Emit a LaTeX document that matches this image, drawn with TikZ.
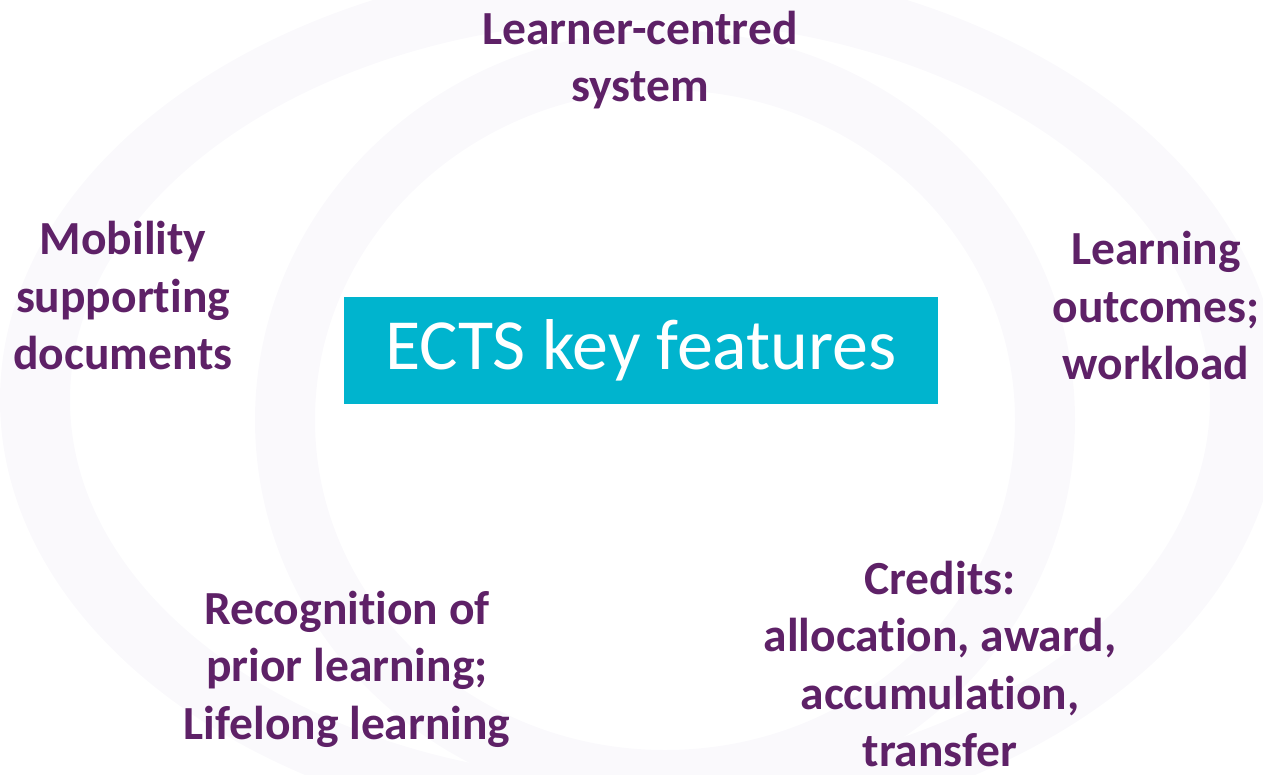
\documentclass[tikz,border=0pt]{standalone}
\usepackage{fontspec}
\setmainfont{Carlito}[Ligatures={NoCommon}]
\definecolor{plum}{HTML}{5E2167}
\definecolor{teal}{HTML}{00B4CE}
\definecolor{haze}{HTML}{FAF9FC}
\begin{document}
\begin{tikzpicture}[x=1pt,y=-1pt,
  feature/.style={text=plum, font=\fontsize{47.5}{57.5}\selectfont\bfseries, align=center, inner sep=0pt},
  title/.style={fill=teal, text=white, font=\fontsize{72}{80}\selectfont, minimum width=594pt, minimum height=107pt, inner sep=0pt}]
\useasboundingbox (0,0) rectangle (1263,774);
% faint circular bands behind the labels
\fill[haze, even odd rule] (640,400) ellipse [x radius=640, y radius=440]
                           (640,400) ellipse [x radius=570, y radius=380];
\fill[haze, even odd rule] (665,420) ellipse [x radius=410, y radius=390]
                           (665,420) ellipse [x radius=350, y radius=330];
% central box
\node[title] (core) at (641,350.5) {\raisebox{-2pt}{ECTS key features}};
% surrounding features
\node[feature] (learner) at (640,60) {Learner-centred\\system};
\node[feature] (mobility) at (123,296) {Mobility\\supporting\\documents};
\node[feature] (outcomes) at (1156,306) {Learning\\outcomes;\\workload};
\node[feature] (prior) at (347,669) {Recognition of\\prior learning;\\Lifelong learning};
\node[feature] (credits) at (940,664) {Credits:\\allocation, award,\\accumulation,\\transfer};
\end{tikzpicture}
\end{document}
